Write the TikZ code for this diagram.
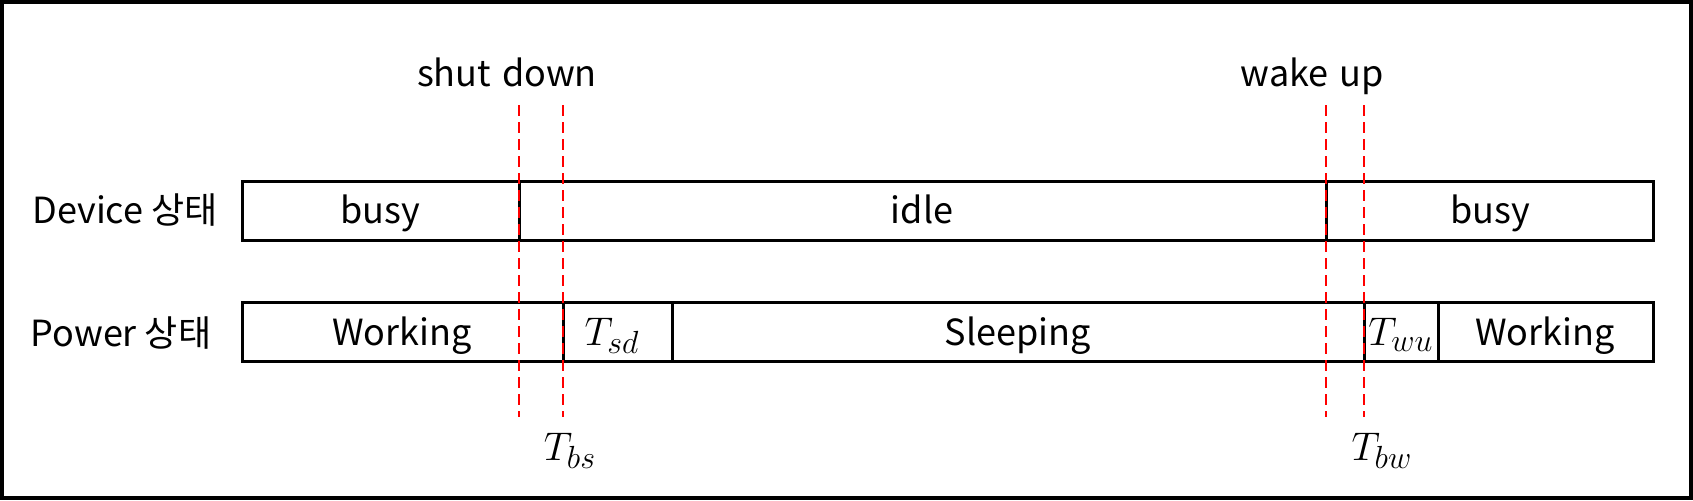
\RequirePackage{fix-cm}
\documentclass[tikz,border=0pt]{standalone}
\usepackage{fontspec}
\setmainfont{Noto Sans CJK KR}
\DeclareMathSizes{20}{20}{16}{12}
\begin{document}
\begin{tikzpicture}[x=0.5pt,y=-0.5pt,
  bar/.style={draw=black,line width=1.5pt},
  redline/.style={draw=red,line width=1pt,dash pattern=on 5.5pt off 3pt},
  lbl/.style={font=\fontsize{18}{20}\selectfont,anchor=base,inner sep=0pt},
  mlbl/.style={font=\fontsize{20}{22}\selectfont,anchor=base,inner sep=0pt}]
\useasboundingbox (0,0) rectangle (1693,500);
\draw[line width=1.8pt] (2,2) rectangle (1691,498);
% device bar
\draw[bar] (242,181) rectangle (1653,240);
\draw[bar] (519,181) -- (519,240);
\draw[bar] (1326,181) -- (1326,240);
% power bar
\draw[bar] (242,302) rectangle (1653,361);
\draw[bar] (563,302) -- (563,361);
\draw[bar] (672,302) -- (672,361);
\draw[bar] (1364,302) -- (1364,361);
\draw[bar] (1438,302) -- (1438,361);
% red dashed markers
\coordinate (s1t) at (519,105); \coordinate (s1b) at (519,417);
\coordinate (s2t) at (563,105); \coordinate (s2b) at (563,417);
\coordinate (w1t) at (1326,105); \coordinate (w1b) at (1326,417);
\coordinate (w2t) at (1364,105); \coordinate (w2b) at (1364,417);
\draw[redline] (s1t) -- (s1b);
\draw[redline] (s2t) -- (s2b);
\draw[redline] (w1t) -- (w1b);
\draw[redline] (w2t) -- (w2b);
% labels
\node[lbl] (devl) at (125,223) {Device 상태};
\node[lbl] (powl) at (121,346) {Power 상태};
\node[lbl] (busy1) at (380,223) {busy};
\node[lbl] (idle) at (922,223) {idle};
\node[lbl] (busy2) at (1490,223) {busy};
\node[lbl] (work1) at (402,345) {Working};
\node[mlbl] (tsd) at (612,345) {$T_{sd}$};
\node[lbl] (sleep) at (1018,345) {Sleeping};
\node[mlbl] (twu) at (1401,345) {$T_{wu}$};
\node[lbl] (work2) at (1545,345) {Working};
\node[lbl] (shut) at (507,86) {shut\hspace{0.3em}down};
\node[lbl] (wake) at (1312,86) {wake\hspace{0.3em}up};
\node[mlbl] (tbs) at (570,460) {$T_{bs}$};
\node[mlbl] (tbw) at (1382,460) {$T_{bw}$};
\end{tikzpicture}
\end{document}
